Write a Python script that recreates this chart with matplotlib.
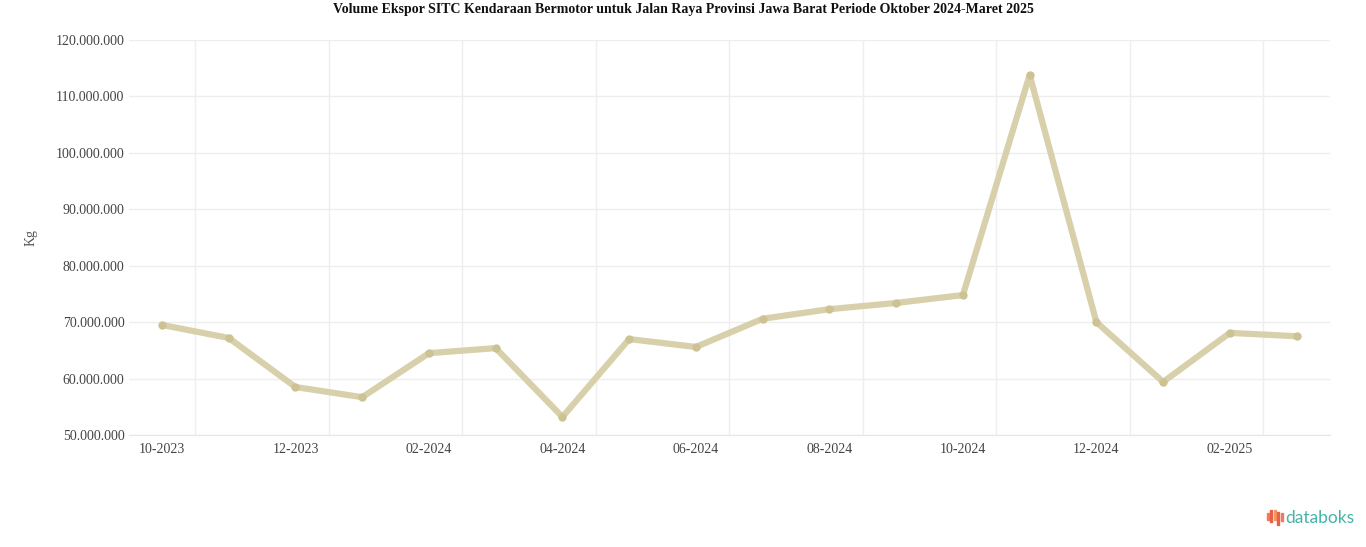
import matplotlib
matplotlib.use("Agg")
import matplotlib.pyplot as plt
from matplotlib.transforms import ScaledTranslation
from matplotlib.patches import Rectangle

months = ["10-2023", "11-2023", "12-2023", "01-2024", "02-2024", "03-2024",
          "04-2024", "05-2024", "06-2024", "07-2024", "08-2024", "09-2024",
          "10-2024", "11-2024", "12-2024", "01-2025", "02-2025", "03-2025"]
volume_kg = [69.5e6, 67.2e6, 58.5e6, 56.7e6, 64.5e6, 65.4e6,
             53.2e6, 67.0e6, 65.6e6, 70.6e6, 72.3e6, 73.4e6,
             74.8e6, 113.8e6, 70.0e6, 59.4e6, 68.1e6, 67.5e6]
y_ticks = [50e6, 60e6, 70e6, 80e6, 90e6, 100e6, 110e6, 120e6]
y_tick_labels = ["50.000.000", "60.000.000", "70.000.000", "80.000.000",
                 "90.000.000", "100.000.000", "110.000.000", "120.000.000"]
title = "Volume Ekspor SITC Kendaraan Bermotor untuk Jalan Raya Provinsi Jawa Barat Periode Oktober 2024-Maret 2025"

plt.rcParams['font.family'] = ['Liberation Serif', 'DejaVu Serif']

W, H = 1366, 547
fig = plt.figure(figsize=(W / 100, H / 100), dpi=100)
left, right, top, bottom = 128.6, 1330, 40, 435
ax = fig.add_axes([left / W, 1 - bottom / H, (right - left) / W, (bottom - top) / H])

x = list(range(len(months)))
ax.plot(x, volume_kg, color="#d8d0aa", linewidth=4.5, solid_capstyle="round",
        solid_joinstyle="round", marker="o", markersize=5,
        markerfacecolor="#cdc293", markeredgecolor="#cdc293", zorder=3)

ax.set_xlim(-0.5, len(months) - 0.5)
ax.set_ylim(y_ticks[0], y_ticks[-1])
ax.set_yticks(y_ticks)
ax.set_yticklabels(y_tick_labels)

label_pos = x[::2]
ax.set_xticks(label_pos)
ax.set_xticklabels([months[i] for i in label_pos])
ax.set_xticks([p + 0.5 for p in label_pos], minor=True)
off = ScaledTranslation(-17 / 100, 0, fig.dpi_scale_trans)
for lab in ax.get_xticklabels():
    lab.set_transform(lab.get_transform() + off)

ax.tick_params(axis="both", which="both", length=0, labelsize=10, labelcolor="#444444")
ax.tick_params(axis="x", pad=6)
ax.tick_params(axis="y", pad=3)
ax.grid(axis="y", which="major", color="#eeeeee", linewidth=1)
ax.grid(axis="x", which="minor", color="#eeeeee", linewidth=1)
ax.grid(axis="x", which="major", visible=False)
for s in ax.spines.values():
    s.set_visible(False)
ax.spines["bottom"].set_visible(True)
ax.spines["bottom"].set_color("#e6e6e6")

ax.set_ylabel("Kg", fontsize=10, color="#555555")
ax.yaxis.set_label_coords((38 - left) / (right - left), 0.5)

fig.text(683 / W, 1 - 10 / H, title, ha="center", va="center",
         fontsize=10, fontweight="bold", color="#111111")

# databoks logo
fig.text(1285 / W, 1 - 518 / H, "databoks", ha="left", va="center",
         fontsize=12.5, color="#45b3a9", family=["Lato", "DejaVu Sans"])
bar_cols = ["#f07a5a", "#e8604a", "#f29a5a", "#e8604a", "#f07a5a"]
bar_h = [7, 12, 10, 13, 8]
bar_y = [513, 510, 510, 512, 513]
for i, (c, h, yy) in enumerate(zip(bar_cols, bar_h, bar_y)):
    fig.patches.append(Rectangle(((1267 + i * 3.4) / W, 1 - (yy + h) / H), 2 / W, h / H,
                                 transform=fig.transFigure, color=c))

fig.savefig("out.png", dpi=100, facecolor="white")
